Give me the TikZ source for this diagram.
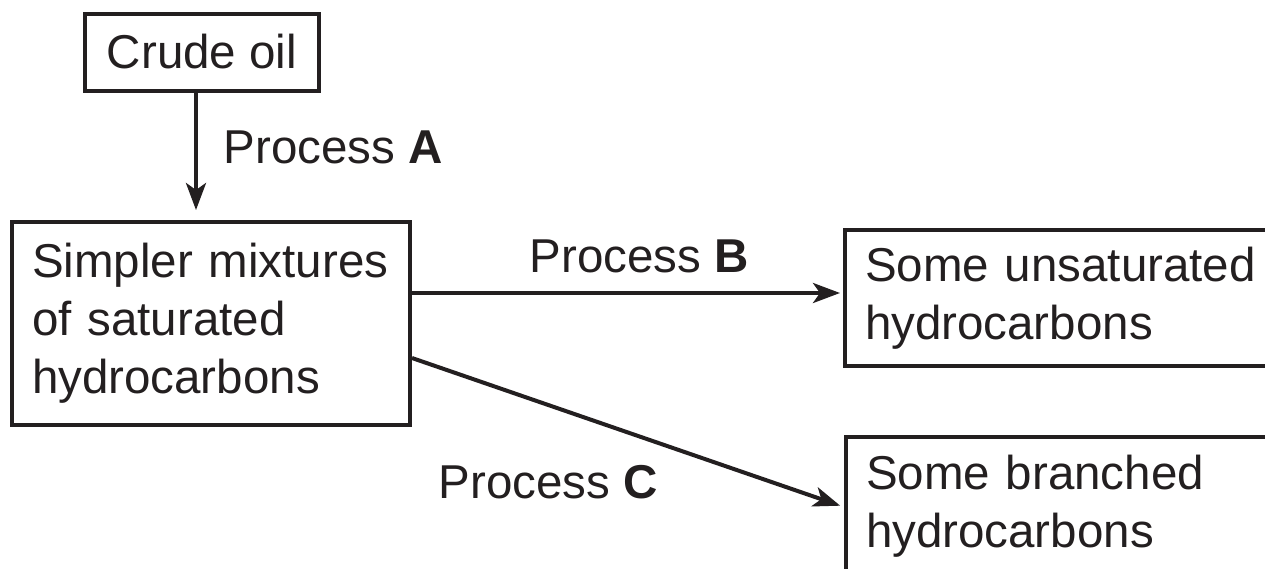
\documentclass[tikz,border=0pt]{standalone}
\usepackage{fontspec}
\setmainfont{Liberation Sans}
\usetikzlibrary{arrows.meta}
\definecolor{ink}{HTML}{231F20}
\begin{document}
\begin{tikzpicture}[x=1pt,y=-1pt,
  every node/.style={font=\fontsize{47.5}{58}\selectfont, text=ink},
  box/.style={draw=ink, line width=4pt, rectangle, inner xsep=20pt, inner ysep=0pt},
  flow/.style={draw=ink, line width=4pt, -{Stealth[length=27pt,width=20pt,inset=7pt]}},
  lbl/.style={anchor=base west, inner sep=0pt}]
\useasboundingbox (0,0) rectangle (1265,568);
\clip (0,0) rectangle (1265,568);

% boxes
\node[box, minimum width=234pt, minimum height=77pt] (crude) at (202,52) {Crude oil};
\node[box, minimum width=398pt, minimum height=203pt, text width=358pt, align=left]
  (simpler) at (211,323.5) {Simpler mixtures\\of saturated\\hydrocarbons};
\node[box, anchor=west, minimum width=460pt, minimum height=136pt, text width=420pt, align=left]
  (unsat) at (843,298) {Some unsaturated\\hydrocarbons};
\node[box, anchor=west, minimum width=460pt, minimum height=138pt, text width=420pt, align=left]
  (branch) at (844,506) {Some branched\\hydrocarbons};

% connector ends
\coordinate (aOut) at ([xshift=-6pt]crude.south);
\coordinate (bOut) at ([yshift=30.5pt]simpler.east);
\coordinate (cOut) at ([yshift=-34.5pt]simpler.east);
\coordinate (cIn) at ([yshift=-1pt]branch.west);

% connectors
\draw[flow, shorten >=10pt] (aOut) -- (aOut |- simpler.north);
\draw[flow, shorten >=3pt] (bOut) -- (bOut -| unsat.west);
\draw[flow, shorten >=4pt] (cOut) -- (cIn);

% labels
\node[lbl] (labA) at (223.5,163) {Process \textbf{A}};
\node[lbl] (labB) at (529.5,272) {Process \textbf{B}};
\node[lbl] (labC) at (438.5,498) {Process \textbf{C}};
\end{tikzpicture}
\end{document}
